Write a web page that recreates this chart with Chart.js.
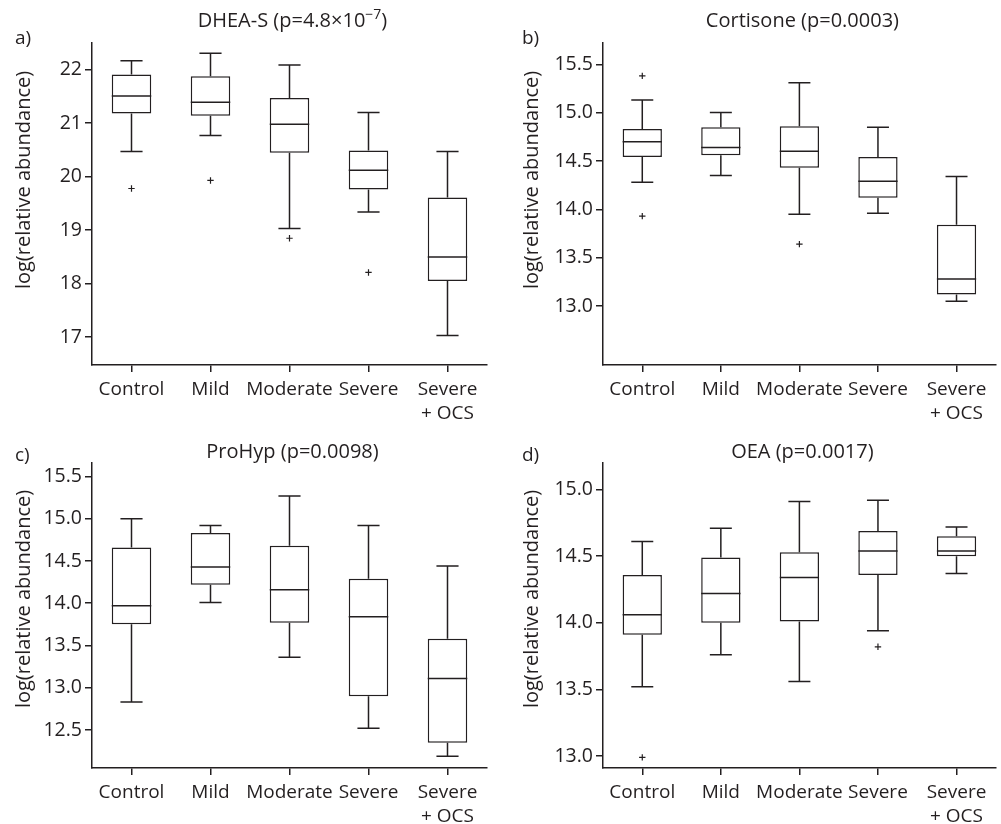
<!DOCTYPE html>
<html>
<head>
<meta charset="utf-8">
<title>Box plots</title>
<script src="https://cdn.jsdelivr.net/npm/chart.js@4.4.0/dist/chart.umd.min.js"></script>
<style>
  body { margin: 0; background: #fff; }
  #wrap { position: relative; width: 1001px; height: 824px; }
  .panel { position: absolute; }
</style>
</head>
<body>
<div id="wrap">
  <div class="panel" style="left:0;top:0;width:500px;height:422px"><canvas id="pa"></canvas></div>
  <div class="panel" style="left:500px;top:0;width:501px;height:422px"><canvas id="pb"></canvas></div>
  <div class="panel" style="left:0;top:422px;width:500px;height:402px"><canvas id="pc"></canvas></div>
  <div class="panel" style="left:500px;top:422px;width:501px;height:402px"><canvas id="pd"></canvas></div>
</div>
<script>
const groups = ['Control', 'Mild', 'Moderate', 'Severe', ['Severe', '+ OCS']];
const yAxisTitle = 'log(relative abundance)';

// a) DHEA-S
const dheaLo  = [20.47, 20.77, 19.03, 19.34, 17.03];
const dheaQ1  = [21.18, 21.14, 20.45, 19.76, 18.05];
const dheaMed = [21.51, 21.39, 20.98, 20.12, 18.50];
const dheaQ3  = [21.91, 21.88, 21.47, 20.49, 19.61];
const dheaHi  = [22.17, 22.31, 22.09, 21.20, 20.47];
const dheaOut = [19.78, 19.93, 18.85, 18.21, null];
const dheaTicks = [17, 18, 19, 20, 21, 22];

// b) Cortisone
const cortLo  = [14.28, 14.35, 13.95, 13.96, 13.05];
const cortQ1  = [14.54, 14.56, 14.43, 14.12, 13.12];
const cortMed = [14.70, 14.64, 14.60, 14.29, 13.28];
const cortQ3  = [14.83, 14.85, 14.86, 14.54, 13.84];
const cortHi  = [15.13, 15.00, 15.31, 14.85, 14.34];
const cortOutHigh = [15.38, null, null, null, null];
const cortOutLow  = [13.93, null, 13.64, null, null];
const cortTicks = [13.0, 13.5, 14.0, 14.5, 15.0, 15.5];

// c) ProHyp
const prohypLo  = [12.83, 14.01, 13.36, 12.52, 12.19];
const prohypQ1  = [13.75, 14.22, 13.77, 12.90, 12.35];
const prohypMed = [13.97, 14.43, 14.16, 13.84, 13.11];
const prohypQ3  = [14.66, 14.83, 14.68, 14.29, 13.58];
const prohypHi  = [15.00, 14.92, 15.27, 14.92, 14.44];
const prohypTicks = [12.5, 13.0, 13.5, 14.0, 14.5, 15.0, 15.5];

// d) OEA
const oeaLo  = [13.52, 13.76, 13.56, 13.94, 14.37];
const oeaQ1  = [13.91, 14.00, 14.01, 14.36, 14.50];
const oeaMed = [14.06, 14.22, 14.34, 14.54, 14.54];
const oeaQ3  = [14.36, 14.49, 14.53, 14.69, 14.65];
const oeaHi  = [14.61, 14.71, 14.91, 14.92, 14.72];
const oeaOut = [12.99, null, null, 13.82, null];
const oeaTicks = [13.0, 13.5, 14.0, 14.5, 15.0];

const ink = '#231f20';
const fontFamily = '"Open Sans", sans-serif';

// whiskers, caps and median line, drawn on the chart's own scales
function boxPlugin(lo, med, hi) {
  return {
    id: 'boxWhiskers',
    afterDatasetsDraw(chart) {
      const { ctx, scales: { x, y } } = chart;
      const bars = chart.getDatasetMeta(0).data;
      const cat = x.getPixelForValue(1) - x.getPixelForValue(0);
      const cap = cat * 0.14;
      ctx.save();
      ctx.strokeStyle = ink;
      ctx.lineWidth = 1.5;
      lo.forEach((v, i) => {
        const bar = bars[i];
        const cx = bar.x;
        const half = bar.width / 2;
        const yTop = Math.min(bar.y, bar.base);
        const yBot = Math.max(bar.y, bar.base);
        const yHi = y.getPixelForValue(hi[i]);
        const yLo = y.getPixelForValue(v);
        const yMed = y.getPixelForValue(med[i]);
        ctx.beginPath();
        ctx.moveTo(cx - half, yMed); ctx.lineTo(cx + half, yMed);
        ctx.moveTo(cx, yTop); ctx.lineTo(cx, yHi);
        ctx.moveTo(cx - cap, yHi); ctx.lineTo(cx + cap, yHi);
        ctx.moveTo(cx, yBot); ctx.lineTo(cx, yLo);
        ctx.moveTo(cx - cap, yLo); ctx.lineTo(cx + cap, yLo);
        ctx.stroke();
      });
      ctx.restore();
    }
  };
}

// panel letter, title (with optional superscript) and the y axis title
function textPlugin(t) {
  return {
    id: 'panelText',
    afterDraw(chart) {
      const { ctx, chartArea } = chart;
      ctx.save();
      ctx.fillStyle = ink;
      ctx.textBaseline = 'middle';
      ctx.font = '19px ' + fontFamily;
      ctx.textAlign = 'left';
      ctx.fillText(t.tag, t.tagX, t.tagY);

      const main = '20px ' + fontFamily;
      const small = '14px ' + fontFamily;
      const parts = [[t.title, main, 0], [t.sup || '', small, -6], [t.tail || '', main, 0]];
      let total = 0;
      parts.forEach(p => { ctx.font = p[1]; total += ctx.measureText(p[0]).width; });
      let xPos = (chartArea.left + chartArea.right) / 2 + 3 - total / 2;
      parts.forEach(p => {
        ctx.font = p[1];
        ctx.fillText(p[0], xPos, t.titleY + p[2]);
        xPos += ctx.measureText(p[0]).width;
      });

      ctx.textAlign = 'center';
      ctx.translate(t.yTitleX, t.yTitleY);
      ctx.rotate(-Math.PI / 2);
      ctx.font = '20px ' + fontFamily;
      ctx.fillText(yAxisTitle, 0, 0);
      ctx.restore();
    }
  };
}

function makePanel(id, stats, outliers, axis, text) {
  const datasets = [{
    type: 'bar',
    data: stats.q1.map((q, i) => [q, stats.q3[i]]),
    backgroundColor: '#ffffff',
    borderColor: ink,
    borderWidth: 1.5,
    borderSkipped: false,
    barPercentage: 0.5,
    categoryPercentage: 1,
  }];
  outliers.forEach(o => {
    datasets.push({
      type: 'line',
      data: o,
      showLine: false,
      pointStyle: 'cross',
      pointRadius: 3.2,
      pointBorderWidth: 1.2,
      borderColor: ink,
      backgroundColor: ink,
    });
  });

  new Chart(document.getElementById(id), {
    type: 'bar',
    data: { labels: groups, datasets: datasets },
    options: {
      responsive: true,
      maintainAspectRatio: false,
      animation: false,
      layout: { padding: { top: axis.padTop, right: axis.padRight, left: 0, bottom: 0 } },
      plugins: {
        legend: { display: false },
        title: { display: false },
        tooltip: { enabled: false },
      },
      scales: {
        x: {
          offset: true,
          afterFit: s => { s.height = axis.xHeight; },
          border: { display: true, color: ink, width: 1.5 },
          grid: {
            display: true,
            offset: false,
            drawOnChartArea: false,
            drawTicks: true,
            tickLength: 7,
            color: ink,
            lineWidth: 1.5,
          },
          ticks: {
            color: ink,
            font: { family: fontFamily, size: 19, lineHeight: 1.29 },
            padding: 5,
            maxRotation: 0,
            autoSkip: false,
          },
        },
        y: {
          min: axis.min,
          max: axis.max,
          afterFit: s => { s.width = axis.yWidth; },
          afterBuildTicks: s => { s.ticks = axis.ticks.map(v => ({ value: v })); },
          border: { display: true, color: ink, width: 1.5 },
          grid: {
            display: true,
            drawOnChartArea: false,
            drawTicks: true,
            tickLength: 7,
            color: ink,
            lineWidth: 1.5,
          },
          ticks: {
            color: ink,
            font: { family: fontFamily, size: 19.5 },
            padding: 3,
            callback: v => v.toFixed(axis.decimals),
          },
        },
      },
    },
    plugins: [boxPlugin(stats.lo, stats.med, stats.hi), textPlugin(text)],
  });
}

makePanel('pa',
  { lo: dheaLo, q1: dheaQ1, med: dheaMed, q3: dheaQ3, hi: dheaHi },
  [dheaOut],
  { padTop: 43, padRight: 13, yWidth: 92, xHeight: 57, min: 16.48, max: 22.5, ticks: dheaTicks, decimals: 0 },
  { tag: 'a)', tagX: 15, tagY: 39, title: 'DHEA-S (p=4.8×10', sup: '−7', tail: ')', titleY: 21, yTitleX: 24, yTitleY: 180 });

makePanel('pb',
  { lo: cortLo, q1: cortQ1, med: cortMed, q3: cortQ3, hi: cortHi },
  [cortOutHigh, cortOutLow],
  { padTop: 43, padRight: 3, yWidth: 103, xHeight: 57, min: 12.39, max: 15.72, ticks: cortTicks, decimals: 1 },
  { tag: 'b)', tagX: 22, tagY: 39, title: 'Cortisone (p=0.0003)', titleY: 21, yTitleX: 32, yTitleY: 180 });

makePanel('pc',
  { lo: prohypLo, q1: prohypQ1, med: prohypMed, q3: prohypQ3, hi: prohypHi },
  [],
  { padTop: 41, padRight: 13, yWidth: 92, xHeight: 56, min: 12.05, max: 15.66, ticks: prohypTicks, decimals: 1 },
  { tag: 'c)', tagX: 15, tagY: 34, title: 'ProHyp (p=0.0098)', titleY: 30, yTitleX: 24, yTitleY: 177 });

makePanel('pd',
  { lo: oeaLo, q1: oeaQ1, med: oeaMed, q3: oeaQ3, hi: oeaHi },
  [oeaOut],
  { padTop: 41, padRight: 3, yWidth: 103, xHeight: 56, min: 12.91, max: 15.2, ticks: oeaTicks, decimals: 1 },
  { tag: 'd)', tagX: 22, tagY: 34, title: 'OEA (p=0.0017)', titleY: 30, yTitleX: 32, yTitleY: 177 });
</script>
</body>
</html>
